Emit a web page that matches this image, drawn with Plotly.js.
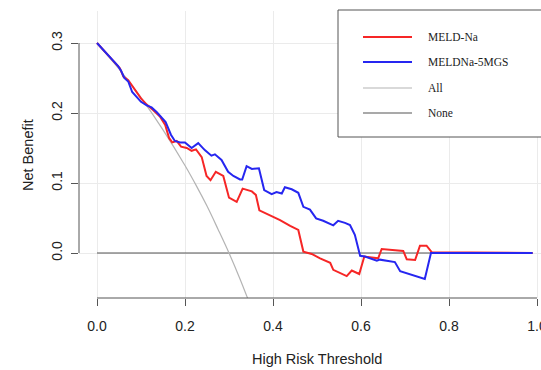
<!DOCTYPE html>
<html><head><meta charset="utf-8">
<script src="https://cdn.plot.ly/plotly-3.0.1.min.js"></script>
<style>html,body{margin:0;padding:0;background:#fff;overflow:hidden;width:541px;height:370px}</style>
</head><body><div id="chart" style="width:556px;height:370px"></div>
<script>
// Data
const meldX = [0,0.045,0.052,0.06,0.071,0.1,0.113,0.128,0.143,0.155,0.164,0.171,0.181,0.191,0.204,0.215,0.225,0.238,0.249,0.258,0.27,0.287,0.30,0.3175,0.331,0.352,0.361,0.369,0.393,0.416,0.439,0.4575,0.469,0.488,0.507,0.53,0.537,0.5675,0.579,0.596,0.6075,0.639,0.647,0.696,0.704,0.723,0.734,0.749,0.761,0.99];
const meldY = [0.300,0.269,0.264,0.252,0.247,0.221,0.212,0.204,0.195,0.183,0.164,0.158,0.160,0.152,0.150,0.146,0.148,0.137,0.110,0.104,0.116,0.110,0.079,0.073,0.092,0.088,0.083,0.061,0.054,0.047,0.0386,0.033,0.002,-0.0014,-0.0076,-0.014,-0.024,-0.033,-0.025,-0.030,-0.005,-0.0076,0.0057,0.003,-0.009,-0.010,0.0105,0.0105,0.001,0];
const mgsX = [0,0.048,0.055,0.062,0.071,0.08,0.09,0.1,0.113,0.124,0.136,0.147,0.156,0.168,0.177,0.189,0.2,0.215,0.23,0.245,0.26,0.268,0.283,0.298,0.31,0.325,0.33,0.34,0.352,0.368,0.38,0.397,0.408,0.42,0.427,0.4425,0.4575,0.469,0.484,0.498,0.514,0.537,0.548,0.5636,0.575,0.586,0.598,0.609,0.636,0.643,0.677,0.689,0.745,0.759,0.99];
const mgsY = [0.300,0.267,0.260,0.250,0.245,0.230,0.223,0.216,0.211,0.208,0.201,0.193,0.187,0.169,0.160,0.158,0.158,0.150,0.157,0.147,0.139,0.141,0.133,0.116,0.110,0.105,0.105,0.124,0.120,0.121,0.090,0.084,0.087,0.085,0.094,0.091,0.086,0.066,0.062,0.0495,0.046,0.0395,0.046,0.043,0.040,0.026,-0.004,-0.005,-0.011,-0.0095,-0.013,-0.026,-0.037,0,0];
const allX = [0,0.05,0.1,0.15,0.2,0.225,0.25,0.275,0.3,0.325,0.345];
const allY = [0.300,0.263,0.222,0.176,0.125,0.097,0.067,0.034,0.0,-0.037,-0.069];
const noneX = [0,0.99];
const noneY = [0,0];
const xTicks = [0,0.2,0.4,0.6,0.8,1.0];
const xTickText = ['0.0','0.2','0.4','0.6','0.8','1.0'];
const yTicks = [0,0.1,0.2,0.3];
const yTickText = ['0.0','0.1','0.2','0.3'];
const legendNames = ['MELD-Na','MELDNa-5MGS','All','None'];

const RED='rgb(246,38,38)', BLUE='rgb(38,38,240)', LGRAY='rgb(180,180,180)', DGRAY='rgb(85,85,85)';
const colors=[RED,BLUE,LGRAY,DGRAY];

const W=556,H=370,L=79,R=1,T=11,B=72;
const px2x = p => (p-L)/(W-L-R);
const px2y = p => (H-B-p)/(H-T-B);

const traces = [
  {x:noneX,y:noneY,mode:'lines',line:{color:DGRAY,width:1.2},hoverinfo:'skip'},
  {x:allX,y:allY,mode:'lines',line:{color:LGRAY,width:1.2,shape:'spline'},hoverinfo:'skip'},
  {x:meldX,y:meldY,mode:'lines',line:{color:RED,width:2}},
  {x:mgsX,y:mgsY,mode:'lines',line:{color:BLUE,width:2}}
];

const shapes = [
  {type:'line',xref:'x',yref:'paper',x0:0,x1:1,y0:0,y1:0,line:{color:DGRAY,width:1}},
  {type:'line',xref:'paper',yref:'y',x0:0,x1:0,y0:0,y1:0.3,line:{color:DGRAY,width:1}},
  {type:'rect',xref:'paper',yref:'paper',x0:px2x(338),x1:px2x(570),y0:px2y(137),y1:px2y(10),fillcolor:'#fff',line:{color:DGRAY,width:1}}
];
const legY=[37,62,88,113];
const annotations=[
  {text:'High Risk Threshold',xref:'paper',yref:'paper',x:px2x(317),y:px2y(359),xanchor:'center',yanchor:'middle',showarrow:false,font:{family:'Liberation Sans, Arial',size:14.5,color:'#222'}},
  {text:'Net Benefit',xref:'paper',yref:'paper',x:px2x(28),y:px2y(155),xanchor:'center',yanchor:'middle',textangle:-90,showarrow:false,font:{family:'Liberation Sans, Arial',size:14.5,color:'#222'}}
];
legendNames.forEach((n,i)=>{
  shapes.push({type:'line',xref:'paper',yref:'paper',x0:px2x(363),x1:px2x(412),y0:px2y(legY[i]),y1:px2y(legY[i]),line:{color:colors[i],width:i<2?2:1.2}});
  annotations.push({text:n,xref:'paper',yref:'paper',x:px2x(426),y:px2y(legY[i]),xanchor:'left',yanchor:'middle',showarrow:false,font:{family:'Liberation Serif, Times New Roman',size:11.5,color:'#222'}});
});

const layout = {
  width:W,height:H,margin:{l:L,r:R,t:T,b:B,pad:0},
  paper_bgcolor:'#fff',plot_bgcolor:'#fff',showlegend:false,
  xaxis:{range:[(L-97)/440,(W-R-97)/440],tickvals:xTicks,ticktext:xTickText,ticks:'outside',ticklen:7,tickcolor:DGRAY,tickwidth:1,
    showline:false,zeroline:false,showgrid:true,gridcolor:'#ebebeb',gridwidth:1,ticklabelstandoff:8,ticklabeloverflow:'allow',
    tickfont:{family:'Liberation Sans, Arial',size:14,color:'#222'}},
  yaxis:{range:[(253-(H-B))/700,(253-T)/700],tickvals:yTicks,ticktext:yTickText,ticks:'outside',ticklen:7,tickcolor:DGRAY,tickwidth:1,tickangle:-90,
    showline:false,zeroline:false,showgrid:true,gridcolor:'#ebebeb',gridwidth:1,ticklabelstandoff:3,
    tickfont:{family:'Liberation Sans, Arial',size:14,color:'#222'}},
  shapes:shapes,annotations:annotations
};
Plotly.newPlot('chart',traces,layout,{staticPlot:true,displayModeBar:false});
</script></body></html>
